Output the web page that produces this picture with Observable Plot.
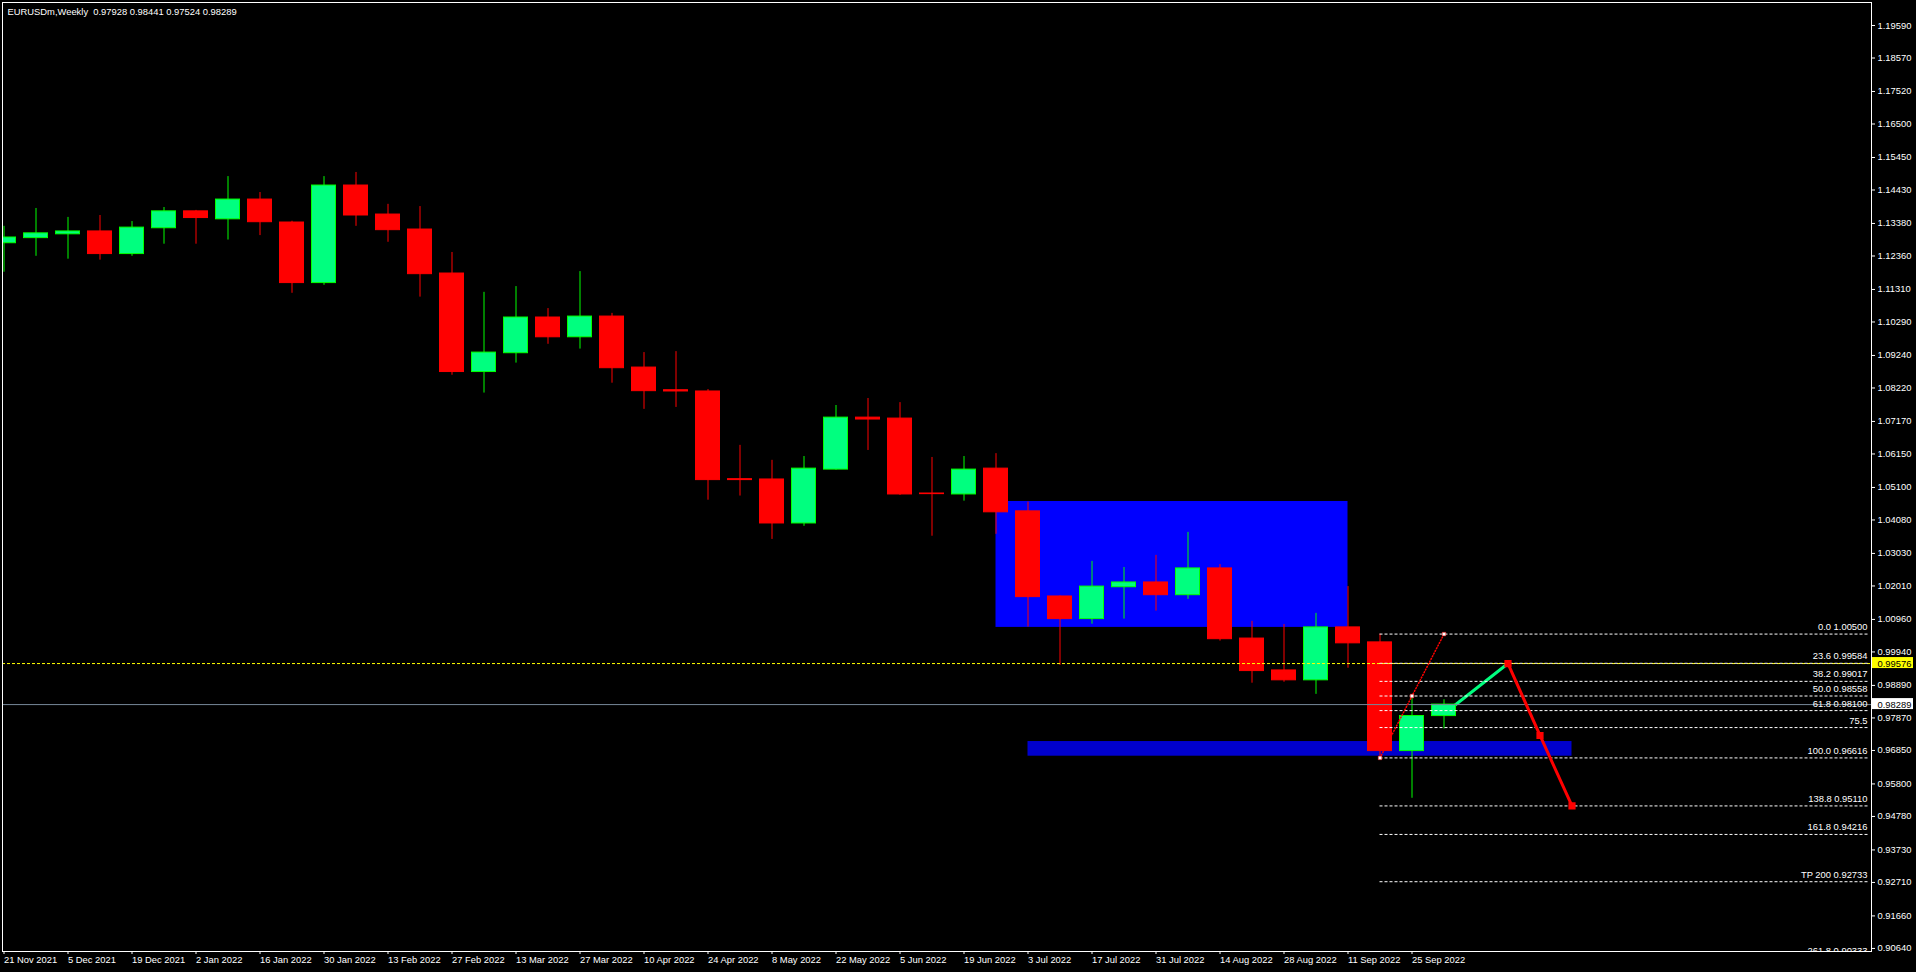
<!DOCTYPE html>
<html><head><meta charset="utf-8">
<script src="https://cdn.jsdelivr.net/npm/d3@7"></script>
<script src="https://cdn.jsdelivr.net/npm/@observablehq/plot@0.6"></script>
<style>
html,body{margin:0;padding:0;background:#000;overflow:hidden}
svg text{white-space:pre}
</style></head><body><div id="chart"></div>
<script>
// ---- data ----
const symbolName = "EURUSDm,Weekly";
// weekly candles, bar 0 = 21 Nov 2021 ... bar 45 = 2 Oct 2022
const opens  = [1.1276,1.1292,1.1304,1.1313,1.1242,1.1323,1.1376,1.1351,1.1413,1.1341,1.1151,1.1457,1.1366,1.1319,1.1181,1.0872,1.0931,1.1043,1.0981,1.1046,1.0886,1.0815,1.0811,1.0536,1.0535,1.0397,1.0566,1.0729,1.0726,1.0491,1.0488,1.0569,1.0435,1.0168,1.0097,1.0197,1.0212,1.0172,1.0256,1.0036,0.9936,0.9905,1.0071,1.0024,0.9683,0.97928];
const highs  = [1.1329,1.1385,1.1357,1.1363,1.1344,1.1388,1.1379,1.1485,1.1435,1.1345,1.1485,1.1498,1.1398,1.1391,1.1247,1.1122,1.1140,1.1071,1.1187,1.1056,1.0933,1.0936,1.0817,1.0642,1.0595,1.0607,1.0767,1.0789,1.0776,1.0604,1.0607,1.0616,1.0464,1.0170,1.0278,1.0259,1.0297,1.0369,1.0268,1.0090,1.0080,1.0115,1.0199,1.0050,0.9855,0.98441];
const lows   = [1.1185,1.1235,1.1226,1.1223,1.1235,1.1273,1.1273,1.1286,1.1300,1.1119,1.1144,1.1329,1.1279,1.1107,1.0862,1.0806,1.0900,1.0959,1.0944,1.0837,1.0755,1.0761,1.0470,1.0483,1.0347,1.0388,1.0564,1.0626,1.0485,1.0357,1.0467,1.0363,1.0072,0.9952,1.0081,1.0097,1.0122,1.0159,1.0028,0.9896,0.9899,0.9861,0.9943,0.9662,0.9535,0.97524];
const closes = [1.1294,1.1307,1.1313,1.1242,1.1325,1.1376,1.1355,1.1413,1.1342,1.1151,1.1457,1.1363,1.1317,1.1179,1.0872,1.0933,1.1043,1.0981,1.1046,1.0884,1.0812,1.0811,1.0533,1.0533,1.0397,1.0569,1.0729,1.0723,1.0488,1.0489,1.0566,1.0432,1.0166,1.0097,1.0199,1.0212,1.0172,1.0256,1.0034,0.9934,0.9905,1.0071,1.0021,0.9683,0.9793,0.98289];

const tickBars = [0,2,4,6,8,10,12,14,16,18,20,22,24,26,28,30,32,34,36,38,40,42,44];
const dateLabels = ["21 Nov 2021","5 Dec 2021","19 Dec 2021","2 Jan 2022","16 Jan 2022","30 Jan 2022","13 Feb 2022","27 Feb 2022","13 Mar 2022","27 Mar 2022","10 Apr 2022","24 Apr 2022","8 May 2022","22 May 2022","5 Jun 2022","19 Jun 2022","3 Jul 2022","17 Jul 2022","31 Jul 2022","14 Aug 2022","28 Aug 2022","11 Sep 2022","25 Sep 2022"];
const priceTicks = [1.19590,1.18570,1.17520,1.16500,1.15450,1.14430,1.13380,1.12360,1.11310,1.10290,1.09240,1.08220,1.07170,1.06150,1.05100,1.04080,1.03030,1.02010,1.00960,0.99940,0.98890,0.97870,0.96850,0.95800,0.94780,0.93730,0.92710,0.91660,0.90640];

// zones (rectangles)
const zoneFrom   = [31, 32];
const zoneTo     = [42, 49];
const zoneTop    = [1.0466, 0.9713];
const zoneBottom = [1.0071, 0.9667];

// fibonacci
const fibStartBar = 43;
const fibLabels = ["0.0 1.00500","23.6 0.99584","38.2 0.99017","50.0 0.98558","61.8 0.98100","75.5","100.0 0.96616","138.8 0.95110","161.8 0.94216","TP 200 0.92733","261.8 0.90333"];
const fibValues = [1.00500,0.99584,0.99017,0.98558,0.98100,0.97568,0.96616,0.95110,0.94216,0.92733,0.90333];
const fibLineBars   = [43, 44, 45];
const fibLinePrices = [0.96616, 0.98558, 1.00500];

// projection path
const projUpBars     = [45, 47];
const projUpPrices   = [0.9800, 0.99576];
const projDownBars   = [47, 48, 49];
const projDownPrices = [0.99576, 0.9732, 0.9511];

const alertLevel = 0.99576;
const bidPrice = 0.98289;

// ---- build ----
const fmt = d3.format(".5f");
const candles = opens.map((o, i) => ({i, o, h: highs[i], l: lows[i], c: closes[i]}));
const bull = candles.filter(d => d.c >= d.o);
const bear = candles.filter(d => d.c < d.o);
const half = 0.375;
const zones = zoneFrom.map((f, k) => ({f, t: zoneTo[k], top: zoneTop[k], bot: zoneBottom[k]}));
const fibs = fibValues.map((v, k) => ({v, label: fibLabels[k]}));
const fibLine = fibLineBars.map((b, k) => ({b, p: fibLinePrices[k]}));
const projUp = projUpBars.map((b, k) => ({b, p: projUpPrices[k]}));
const projDown = projDownBars.map((b, k) => ({b, p: projDownPrices[k]}));
const last = candles[candles.length - 1];
const title = `${symbolName}  ${fmt(last.o)} ${fmt(last.h)} ${fmt(last.l)} ${fmt(last.c)}`;

const xDomain = [-0.046875, 58.359375];
const yDomain = [0.90544, 1.20311];

const plot = Plot.plot({
  width: 1916, height: 972,
  marginLeft: 2, marginRight: 45, marginTop: 2, marginBottom: 21,
  style: {background: "#000", color: "#fff", fontFamily: "'Liberation Sans', Arial, sans-serif", fontSize: "9.4px"},
  x: {type: "linear", domain: xDomain},
  y: {type: "linear", domain: yDomain},
  marks: [
    Plot.rect(zones.slice(0, 1), {x1: "f", x2: "t", y1: "top", y2: "bot", fill: "#0000FF"}),
    Plot.rect(zones.slice(1), {x1: "f", x2: "t", y1: "top", y2: "bot", fill: "#0000CD"}),
    Plot.line(projUp, {x: "b", y: "p", stroke: "#00FF7F", strokeWidth: 3}),
    Plot.ruleX(bull, {x: "i", y1: "l", y2: "h", stroke: "#00FF00", clip: true}),
    Plot.ruleX(bear, {x: "i", y1: "l", y2: "h", stroke: "#FF0000", clip: true}),
    Plot.rect(bull, {x1: d => d.i - half, x2: d => d.i + half, y1: "o", y2: "c", fill: "#00FF7F", stroke: "#00FF00", clip: true}),
    Plot.rect(bear, {x1: d => d.i - half, x2: d => d.i + half, y1: "o", y2: "c", fill: "#FF0000", stroke: "#FF0000", clip: true}),
    Plot.ruleY([alertLevel], {y: d => d, stroke: "#FFFF00", strokeDasharray: "3,2"}),
    Plot.ruleY([bidPrice], {y: d => d, stroke: "#778899"}),
    Plot.ruleY(fibs, {y: "v", x1: fibStartBar, x2: xDomain[1] - 0.1, stroke: "#fff", strokeDasharray: "3,2", clip: true}),
    Plot.text(fibs, {y: "v", text: "label", frameAnchor: "right", textAnchor: "end", dx: -4, dy: -7, fill: "#fff", clip: true}),
    Plot.line(fibLine, {x: "b", y: "p", stroke: "#FF0000", strokeDasharray: "1,2"}),
    Plot.dot(fibLine, {x: "b", y: "p", symbol: "square", r: 2, fill: "#fff", stroke: "#FF0000", strokeWidth: 0.5}),
    Plot.line(projDown, {x: "b", y: "p", stroke: "#FF0000", strokeWidth: 3}),
    Plot.dot(projDown, {x: "b", y: "p", symbol: "square", r: 3.2, fill: "#FF0000", stroke: "#FF0000"}),
    Plot.frame({stroke: "#fff"}),
    Plot.axisX({ticks: tickBars, tickFormat: i => dateLabels[tickBars.indexOf(i)], tickSize: 3, tickPadding: 2, textAnchor: "start", dx: 0, label: null}),
    Plot.axisY({anchor: "right", ticks: priceTicks, tickFormat: fmt, tickSize: 3, tickPadding: 3, label: null}),
    Plot.rect([alertLevel], {x1: xDomain[1], x2: xDomain[1], y1: d => d, y2: d => d, insetLeft: 1, insetRight: -42, insetTop: -6, insetBottom: -5, fill: "#FFFF00"}),
    Plot.text([alertLevel], {y: d => d, text: d => fmt(d), frameAnchor: "right", textAnchor: "start", dx: 6, fill: "#000"}),
    Plot.rect([bidPrice], {x1: xDomain[1], x2: xDomain[1], y1: d => d, y2: d => d, insetLeft: 1, insetRight: -42, insetTop: -6, insetBottom: -5, fill: "#FFFFFF"}),
    Plot.text([bidPrice], {y: d => d, text: d => fmt(d), frameAnchor: "right", textAnchor: "start", dx: 6, fill: "#000"}),
    Plot.text([title], {text: d => d, frameAnchor: "top-left", dx: 5, dy: 9, textAnchor: "start", lineAnchor: "middle", fill: "#fff"})
  ]
});
document.getElementById("chart").appendChild(plot);
</script>
</body></html>
